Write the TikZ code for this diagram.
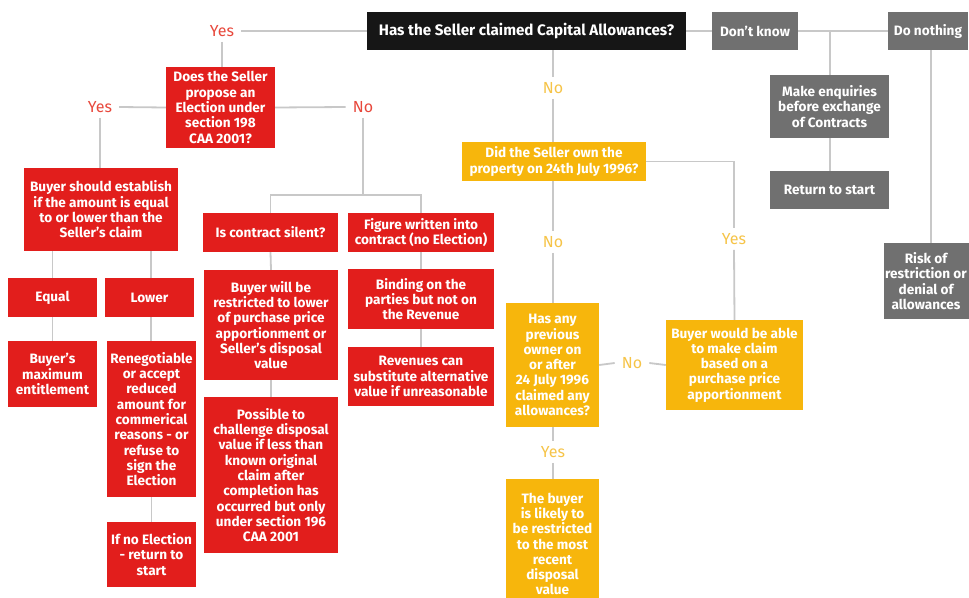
\documentclass[tikz,border=0pt]{standalone}
\usepackage{fontspec}
\setmainfont{Fira Sans}
\definecolor{cred}{RGB}{226,30,28}
\definecolor{cyel}{RGB}{247,182,12}
\definecolor{cgrey}{RGB}{112,112,112}
\definecolor{cblack}{RGB}{22,22,22}
\definecolor{cline}{RGB}{200,200,200}
\definecolor{lred}{RGB}{232,72,60}
\definecolor{lyel}{RGB}{246,196,72}
\begin{document}
\begin{tikzpicture}[x=1pt,y=-1pt,
  box/.style={rectangle,inner sep=0pt,align=center,text=white,
    font=\fontsize{13.6}{15.3}\selectfont\bfseries},
  redbox/.style={box,fill=cred},
  yelbox/.style={box,fill=cyel},
  greybox/.style={box,fill=cgrey},
  blackbox/.style={box,fill=cblack,font=\fontsize{15.2}{17}\selectfont\bfseries},
  lab/.style={inner xsep=7pt,inner ysep=5pt,font=\fontsize{16}{16}\selectfont},
  redlab/.style={lab,text=lred},
  yellab/.style={lab,text=lyel},
  conn/.style={draw=cline,line width=1.8pt}]
\useasboundingbox[fill=white] (0,0) rectangle (969,597);

% top row
\node[blackbox,minimum width=319pt,minimum height=38pt] (start) at (526.5,31) {Has the Seller claimed Capital Allowances?};
\node[greybox,minimum width=86pt,minimum height=38pt] (dontknow) at (755,31) {Don't know};
\node[greybox,minimum width=80pt,minimum height=38pt] (donothing) at (928,31) {Do nothing};
\node[greybox,minimum width=119pt,minimum height=63pt] (enq) at (829.5,106.5) {Make enquiries\\before exchange\\of Contracts};
\node[greybox,minimum width=119pt,minimum height=38pt] (ret) at (829.5,190) {Return to start};
\node[greybox,minimum width=96pt,minimum height=76pt] (riskbg) at (932,281) {};
\node[box,anchor=center] (risk) at (926,281) {Risk of\\restriction or\\denial of\\allowances};

% yellow branch
\node[yelbox,minimum width=184pt,minimum height=39pt] (owned) at (554,161.5) {Did the Seller own the\\property on 24th July 1996?};
\node[yelbox,minimum width=93pt,minimum height=124pt] (hasany) at (552.5,365) {Has any\\previous\\owner on\\or after\\24 July 1996\\claimed any\\allowances?};
\node[yelbox,minimum width=137pt,minimum height=90pt] (able) at (734.5,365) {Buyer would be able\\to make claim\\based on a\\purchase price\\apportionment};
\node[yelbox,minimum width=93pt,minimum height=130pt] (likely) at (552.5,544) {The buyer\\is likely to\\be restricted\\to the most\\recent\\disposal\\value};

% red branch
\node[redbox,minimum width=109pt,minimum height=81pt] (elect) at (220.5,107.5) {Does the Seller\\propose an\\Election under\\section 198\\CAA 2001?};
\node[redbox,minimum width=154pt,minimum height=83pt] (estab) at (101,209.5) {Buyer should establish\\if the amount is equal\\to or lower than the\\Seller's claim};
\node[redbox,minimum width=135pt,minimum height=39pt] (silent) at (270.5,232.5) {Is contract silent?};
\node[redbox,minimum width=146pt,minimum height=39pt] (figure) at (421,232.5) {Figure written into\\contract (no Election)};
\node[redbox,minimum width=89pt,minimum height=39pt] (equal) at (52.5,297.5) {Equal};
\node[redbox,minimum width=89pt,minimum height=39pt] (lower) at (149.5,297.5) {Lower};
\node[redbox,minimum width=89pt,minimum height=66pt] (maxent) at (52.5,374) {Buyer's\\maximum\\entitlement};
\node[redbox,minimum width=89pt,minimum height=156pt] (reneg) at (151.5,419) {Renegotiable\\or accept\\reduced\\amount for\\commerical\\reasons - or\\refuse to\\sign the\\Election};
\node[redbox,minimum width=89pt,minimum height=65pt] (noelec) at (151.5,554.5) {If no Election\\- return to\\start};
\node[redbox,minimum width=134pt,minimum height=110pt] (restr) at (271,325) {Buyer will be\\restricted to lower\\of purchase price\\apportionment or\\Seller's disposal\\value};
\node[redbox,minimum width=134pt,minimum height=156pt] (chall) at (271,475) {Possible to\\challenge disposal\\value if less than\\known original\\claim after\\completion has\\occurred but only\\under section 196\\CAA 2001};
\node[redbox,minimum width=146pt,minimum height=60pt] (bind) at (421,299) {Binding on the\\parties but not on\\the Revenue};
\node[redbox,minimum width=146pt,minimum height=59pt] (reven) at (421,376.5) {Revenues can\\substitute alternative\\value if unreasonable};

% labels
\node[redlab] (yesT) at (222,31) {Yes};
\node[redlab] (yesL) at (100,107) {Yes};
\node[redlab] (noL) at (363,107) {No};
\node[yellab] (noT) at (553,88) {No};
\node[yellab] (noY) at (553,242) {No};
\node[yellab] (yesY) at (734,239) {Yes};
\node[yellab] (noH) at (632,363) {No};
\node[yellab] (yesB) at (553,452) {Yes};

\coordinate (nb) at (363,195);
\coordinate (dk) at (830,31);

% connectors
\draw[conn] (yesT.east) -- (start.west);
\draw[conn] (yesT.south) -- (yesT.south |- elect.north);
\draw[conn] (yesL.east) -- (elect.west);
\draw[conn] (yesL.south) -- (yesL.south |- estab.north);
\draw[conn] (elect.east) -- (noL.west);
\draw[conn] (noL.south) -- (nb);
\draw[conn] (silent.north) -- (silent.north |- nb) -- (figure.north |- nb) -- (figure.north);
\draw[conn] (equal.north |- estab.south) -- (equal.north);
\draw[conn] (151,0 |- estab.south) -- (151,0 |- lower.north);
\draw[conn] (equal.south) -- (maxent.north);
\draw[conn] (151,0 |- lower.south) -- (151,0 |- reneg.north);
\draw[conn] (reneg.south) -- (noelec.north);
\draw[conn] (silent.south) -- (restr.north);
\draw[conn] (restr.south) -- (chall.north);
\draw[conn] (figure.south) -- (bind.north);
\draw[conn] (bind.south) -- (reven.north);
\draw[conn] (start.east) -- (dontknow.west);
\draw[conn] (dontknow.east) -- (donothing.west);
\draw[conn] (dk) -- (dk |- enq.north);
\draw[conn] (dk |- enq.south) -- (dk |- ret.north);
\draw[conn] (931,0 |- donothing.south) -- (931,0 |- riskbg.north);
\draw[conn] (noT.north |- start.south) -- (noT.north);
\draw[conn] (noT.south) -- (noT.south |- owned.north);
\draw[conn] (noY.north |- owned.south) -- (noY.north);
\draw[conn] (noY.south) -- (noY.south |- hasany.north);
\draw[conn] (owned.east) -- (owned.east -| yesY) -- (yesY.north);
\draw[conn] (yesY.south) -- (able.north);
\draw[conn] (hasany.east) -- (noH.west);
\draw[conn] (noH.east) -- (able.west);
\draw[conn] (yesB.north |- hasany.south) -- (yesB.north);
\draw[conn] (yesB.south) -- (yesB.south |- likely.north);
\end{tikzpicture}
\end{document}
